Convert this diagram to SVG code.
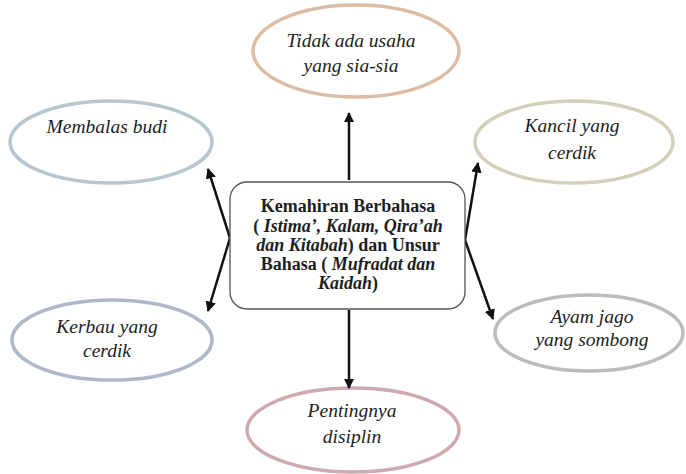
<svg xmlns="http://www.w3.org/2000/svg" width="686" height="474" viewBox="0 0 686 474">
<defs>
<marker id="ah" viewBox="0 0 10 10" refX="9" refY="5" markerWidth="4.2" markerHeight="4.2" orient="auto-start-reverse" markerUnits="strokeWidth">
<path d="M0,0 L10,5 L0,10 z" fill="#111"/>
</marker>
</defs>
<style>
.ell{fill:#fff;stroke-width:3.5}
.lab{font-family:'Liberation Serif','Times New Roman',serif;font-style:italic;font-size:19.5px;fill:#1e1e1e;text-anchor:middle}
.ctr{font-family:'Liberation Serif','Times New Roman',serif;font-weight:bold;font-size:18px;fill:#1e1e1e;text-anchor:middle}
.arr{stroke:#111;stroke-width:2.5;fill:none;marker-end:url(#ah)}
</style>
<rect width="686" height="474" fill="#fff"/>
<g id="n-top">
<ellipse class="ell" cx="356" cy="51" rx="103" ry="46" stroke="#dcbca3"/>
<text class="lab" x="351" y="47">Tidak ada usaha</text>
<text class="lab" x="351" y="72">yang sia-sia</text>
</g>
<g id="n-membalas">
<ellipse class="ell" cx="111" cy="142" rx="101" ry="41" stroke="#b8c6d0"/>
<text class="lab" x="107" y="133">Membalas budi</text>
</g>
<g id="n-kancil">
<ellipse class="ell" cx="574" cy="142" rx="99" ry="41" stroke="#d2d0b8"/>
<text class="lab" x="572" y="132">Kancil yang</text>
<text class="lab" x="572" y="159">cerdik</text>
</g>
<g id="n-kerbau">
<ellipse class="ell" cx="112" cy="340" rx="100" ry="40" stroke="#adb9c8"/>
<text class="lab" x="107" y="333">Kerbau yang</text>
<text class="lab" x="107" y="357">cerdik</text>
</g>
<g id="n-ayam">
<ellipse class="ell" cx="589" cy="333" rx="94" ry="38" stroke="#bcbcbf"/>
<text class="lab" x="592" y="323">Ayam jago</text>
<text class="lab" x="592" y="346">yang sombong</text>
</g>
<g id="n-penting">
<ellipse class="ell" cx="353" cy="430" rx="106" ry="42" stroke="#cea9b0"/>
<text class="lab" x="352" y="417">Pentingnya</text>
<text class="lab" x="352" y="443">disiplin</text>
</g>
<g id="connectors">
<line class="arr" x1="349" y1="180" x2="349" y2="113"/>
<line class="arr" x1="349" y1="310" x2="349" y2="388"/>
<line class="arr" x1="230" y1="238" x2="208" y2="169"/>
<line class="arr" x1="230" y1="238" x2="208" y2="311"/>
<line class="arr" x1="465" y1="240" x2="478" y2="163"/>
<line class="arr" x1="465" y1="240" x2="493" y2="319"/>
</g>
<g id="n-center">
<rect x="230" y="182" width="235" height="127" rx="17" ry="17" fill="#fff" stroke="#555" stroke-width="1.3"/>
<text class="ctr" x="348" y="212">Kemahiran Berbahasa</text>
<text class="ctr" x="348" y="232">( <tspan font-style="italic">Istima’, Kalam, Qira’ah</tspan></text>
<text class="ctr" x="348" y="251"><tspan font-style="italic">dan Kitabah</tspan>) dan Unsur</text>
<text class="ctr" x="348" y="270">Bahasa ( <tspan font-style="italic">Mufradat dan</tspan></text>
<text class="ctr" x="348" y="289"><tspan font-style="italic">Kaidah</tspan>)</text>
</g>
</svg>
